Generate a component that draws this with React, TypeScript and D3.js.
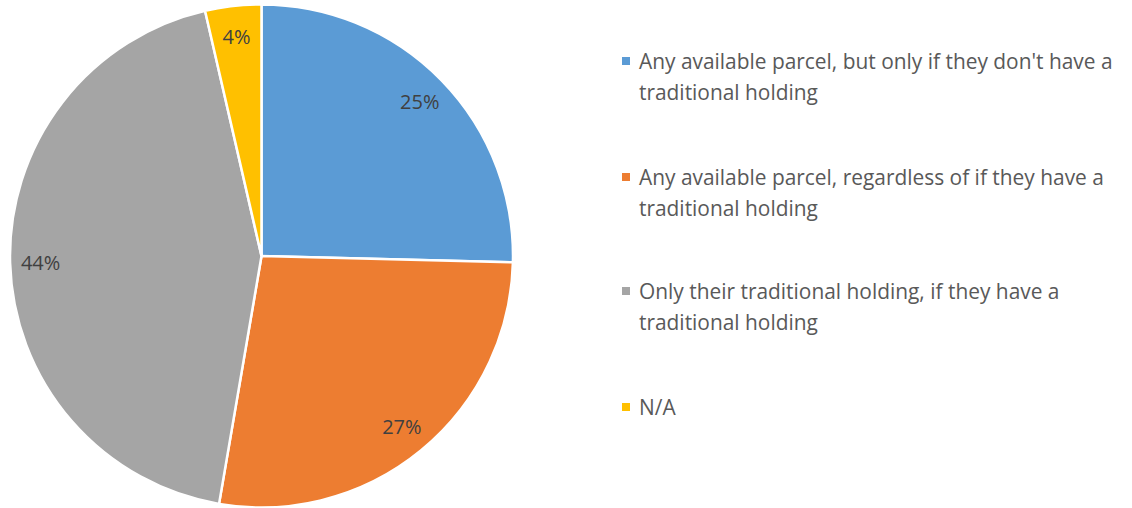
import React from "react";
import * as d3 from "d3";

const categories = [
  "Any available parcel, but only if they don't have a traditional holding",
  "Any available parcel, regardless of if they have a traditional holding",
  "Only their traditional holding, if they have a traditional holding",
  "N/A",
];
const values = [25.4, 27.3, 43.7, 3.6];
const colors = ["#5B9BD5", "#ED7D31", "#A5A5A5", "#FFC000"];

const W = 1132;
const H = 508;
const FONT = "'Open Sans', sans-serif";

function wrap(text: string, maxW: number, font: string): string[] {
  const canvas = document.createElement("canvas");
  const ctx = canvas.getContext("2d")!;
  ctx.font = font;
  const words = text.split(" ");
  const lines: string[] = [];
  let cur = "";
  for (const w of words) {
    const t = cur ? cur + " " + w : w;
    if (ctx.measureText(t).width > maxW && cur) {
      lines.push(cur);
      cur = w;
    } else cur = t;
  }
  if (cur) lines.push(cur);
  return lines;
}

export default function App() {
  const cx = 261.5;
  const cy = 256;
  const r = 251.5;
  const data = categories.map((c, i) => ({ c, v: values[i], color: colors[i] }));
  const pie = d3.pie<any>().value((d) => d.v).sort(null);
  const arcs = pie(data);
  const arc = d3.arc<any>().innerRadius(0).outerRadius(r);
  const labelArc = d3.arc<any>().innerRadius(221).outerRadius(221);

  const legendFontSize = 20.9;
  const legendFont = `${legendFontSize}px 'Open Sans'`;
  const itemTops = [61, 177, 291, 407];

  return (
    <svg width={W} height={H} style={{ position: "absolute", left: 0, top: 0, background: "#fff" }}>
      <g transform={`translate(${cx},${cy})`}>
        {arcs.map((a, i) => (
          <path key={i} d={arc(a)!} fill={a.data.color} stroke="#fff" strokeWidth={2.5} />
        ))}
        {arcs.map((a, i) => {
          const [x, y] = labelArc.centroid(a);
          return (
            <text
              key={"l" + i}
              x={x}
              y={y}
              textAnchor="middle"
              dominantBaseline="central"
              fontFamily={FONT}
              fontSize={20}
              fill="#404040"
            >
              {`${Math.round(a.data.v)}%`}
            </text>
          );
        })}
      </g>
      {categories.map((c, i) => {
        const lines = wrap(c, 486, legendFont);
        const y0 = itemTops[i];
        return (
          <g key={"lg" + i}>
            <rect x={622} y={y0 - 4} width={8} height={8} fill={colors[i]} />
            {lines.map((ln, j) => (
              <text
                key={j}
                x={639}
                y={y0 + j * 31}
                dominantBaseline="central"
                fontFamily={FONT}
                fontSize={legendFontSize}
                fill="#595959"
              >
                {ln}
              </text>
            ))}
          </g>
        );
      })}
    </svg>
  );
}
